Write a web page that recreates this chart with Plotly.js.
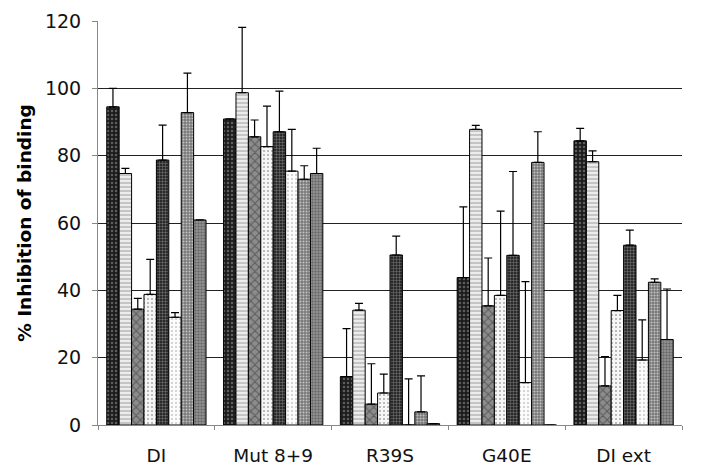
<!DOCTYPE html>
<html>
<head>
<meta charset="utf-8">
<script src="https://cdn.plot.ly/plotly-3.0.1.min.js"></script>
<style>html,body{margin:0;padding:0;background:#fff;}#chart{width:702px;height:470px;}</style>
</head>
<body>
<div id="chart"></div>
<script>
const categories = ["DI", "Mut 8+9", "R39S", "G40E", "DI ext"];
const s1 = [94.5, 90.9, 14.4, 43.8, 84.4];
const s2 = [74.7, 98.7, 34.1, 87.8, 78.2];
const s3 = [34.4, 85.6, 6.2, 35.4, 11.6];
const s4 = [38.8, 82.7, 9.5, 38.5, 34.0];
const s5 = [78.7, 87.1, 50.5, 50.4, 53.4];
const s6 = [32.0, 75.4, 0, 12.6, 19.3];
const s7 = [92.8, 73.0, 3.9, 78.0, 42.4];
const s8 = [60.9, 74.7, 0.4, 0, 25.4];
const e1 = [5.5, 0, 14.2, 21.0, 3.7];
const e2 = [1.5, 19.4, 2.0, 1.2, 3.2];
const e3 = [3.2, 5.0, 12.0, 14.2, 8.7];
const e4 = [10.4, 12.0, 5.6, 25.0, 4.5];
const e5 = [10.4, 12.1, 5.6, 24.9, 4.5];
const e6 = [1.4, 12.4, 13.7, 30.0, 11.9];
const e7 = [11.7, 4.0, 10.7, 9.1, 1.0];
const e8 = [0, 7.5, 0, 0, 15.0];

const seriesVals = [s1, s2, s3, s4, s5, s6, s7, s8];
const seriesErrs = [e1, e2, e3, e4, e5, e6, e7, e8];
const styles = [
  {bg: "#1c1c1c", fg: "#5e5e5e", shape: ".", size: 4, sol: 0.3},
  {bg: "#ececec", fg: "#8a8a8a", shape: "-", size: 4, sol: 0.2},
  {bg: "#8c8c8c", fg: "#5a5a5a", shape: "x", size: 6, sol: 0.3},
  {bg: "#f6f6f6", fg: "#a8a8a8", shape: ".", size: 4, sol: 0.2},
  {bg: "#2a2a2a", fg: "#8a8a8a", shape: "+", size: 3, sol: 0.25},
  {bg: "#fbfbfb", fg: "#c8c8c8", shape: ".", size: 4, sol: 0.2},
  {bg: "#787878", fg: "#c4c4c4", shape: ".", size: 3, sol: 0.35},
  {bg: "#8e8e8e", fg: "#4a4a4a", shape: "+", size: 3, sol: 0.2}
];

const traces = seriesVals.map((vals, i) => ({
  type: "bar",
  x: categories,
  y: vals,
  name: "S" + (i + 1),
  marker: {
    color: styles[i].bg,
    line: {color: "#000", width: 1},
    pattern: {shape: styles[i].shape, fgcolor: styles[i].fg, bgcolor: styles[i].bg, size: styles[i].size, solidity: styles[i].sol}
  },
  error_y: {
    type: "data", symmetric: false,
    array: seriesErrs[i],
    arrayminus: vals.map(() => 0),
    color: "#000", thickness: 1.2, width: 4
  },
  hoverinfo: "none"
}));

const layout = {
  width: 702, height: 470,
  margin: {l: 98, r: 20, t: 21, b: 45},
  paper_bgcolor: "#fff", plot_bgcolor: "#fff",
  showlegend: false,
  barmode: "group",
  bargap: 0.15,
  bargroupgap: 0,
  font: {family: "DejaVu Sans, Verdana, sans-serif", color: "#111"},
  xaxis: {
    type: "category",
    tickson: "boundaries",
    ticks: "outside", ticklen: 4, tickcolor: "#888",
    ticklabelstandoff: 14,
    showline: true, linecolor: "#888", linewidth: 1,
    showgrid: false,
    automargin: false,
    tickfont: {size: 18.5, family: "DejaVu Sans, Verdana, sans-serif", color: "#111"}
  },
  yaxis: {
    range: [0, 120],
    dtick: 20,
    ticks: "outside", ticklen: 5, tickcolor: "#888",
    ticklabelstandoff: 7,
    showline: true, linecolor: "#888", linewidth: 1,
    showgrid: true, gridcolor: "#222", gridwidth: 1,
    zeroline: false,
    automargin: false,
    tickfont: {size: 19, family: "DejaVu Sans, Verdana, sans-serif", color: "#111"},
    title: {text: "% Inhibition of binding", font: {size: 18.5, family: "DejaVu Sans, Verdana, sans-serif", weight: "bold", color: "#000"}, standoff: 8}
  }
};

Plotly.newPlot("chart", traces, layout, {displayModeBar: false, staticPlot: true});
</script>
</body>
</html>
